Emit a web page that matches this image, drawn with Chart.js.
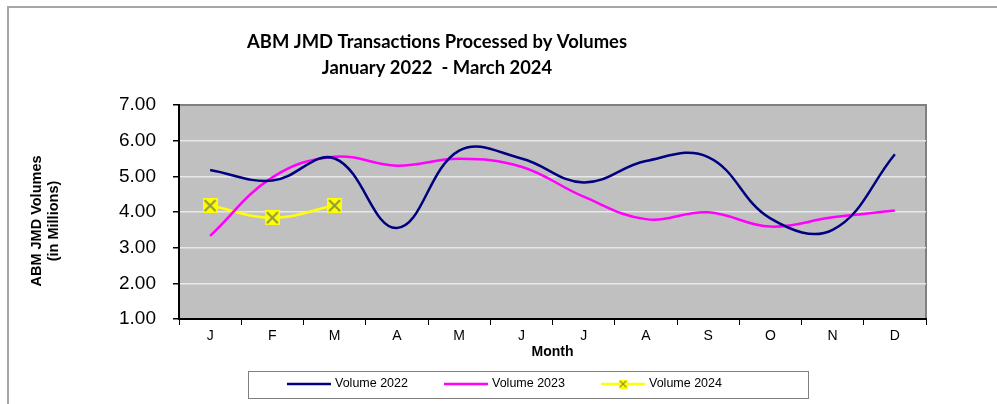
<!DOCTYPE html>
<html>
<head>
<meta charset="utf-8">
<script src="https://cdn.jsdelivr.net/npm/chart.js@4"></script>
<style>
  body { margin: 0; background: #fff; }
  #graph { display: block; }
</style>
</head>
<body>
<canvas id="graph" width="997" height="404"></canvas>
<script>
// months and volumes (millions)
var months = ["J", "F", "M", "A", "M", "J", "J", "A", "S", "O", "N", "D"];
var vol2022 = [5.18, 4.88, 5.50, 3.55, 5.72, 5.50, 4.83, 5.43, 5.54, 3.82, 3.50, 5.62];
var vol2023 = [3.33, 4.97, 5.55, 5.30, 5.49, 5.27, 4.43, 3.80, 3.99, 3.59, 3.85, 4.04];
var vol2024 = [4.18, 3.84, 4.18];
var yTicks = [1, 2, 3, 4, 5, 6, 7];

var titleLines = ["ABM JMD Transactions Processed by Volumes", "January 2022  - March 2024"];
var yTitleLines = ["ABM JMD Volumes", "(in Millions)"];

// yellow square with an olive X, like the Excel marker
function makeMarker() {
  var c = document.createElement("canvas");
  c.width = 15; c.height = 15;
  var g = c.getContext("2d");
  g.fillStyle = "#ffff00";
  g.fillRect(0, 0, 15, 15);
  g.strokeStyle = "#8f9a3a";
  g.lineWidth = 2;
  g.beginPath();
  g.moveTo(2, 2); g.lineTo(13, 13);
  g.moveTo(13, 2); g.lineTo(2, 13);
  g.stroke();
  return c;
}
var marker = makeMarker();

var decor = {
  id: "decor",
  beforeDraw: function(chart) {
    var ctx = chart.ctx, a = chart.chartArea;
    ctx.save();
    ctx.fillStyle = "#fff";
    ctx.fillRect(0, 0, chart.width, chart.height);
    // outer frame
    ctx.strokeStyle = "#a6a6a6";
    ctx.lineWidth = 2;
    ctx.beginPath();
    ctx.moveTo(8, chart.height + 2); ctx.lineTo(8, 7); ctx.lineTo(chart.width + 2, 7);
    ctx.stroke();
    // plot background
    ctx.fillStyle = "#c0c0c0";
    ctx.fillRect(a.left, a.top, a.right - a.left, a.bottom - a.top);
    ctx.strokeStyle = "#808080";
    ctx.lineWidth = 2;
    ctx.beginPath();
    ctx.moveTo(a.left, a.top); ctx.lineTo(a.right, a.top); ctx.lineTo(a.right, a.bottom);
    ctx.stroke();
    ctx.restore();
  },
  afterDraw: function(chart) {
    var ctx = chart.ctx;
    ctx.save();
    ctx.fillStyle = "#000";
    ctx.textAlign = "center";
    ctx.textBaseline = "middle";
    ctx.font = "bold 18.4px Lato, 'Open Sans', sans-serif";
    ctx.fillText(titleLines[0], 437, 42);
    ctx.fillText(titleLines[1], 437, 68);

    // rotated y axis title
    ctx.font = "bold 14.5px 'Liberation Sans', Arial, sans-serif";
    ctx.translate(0, 221);
    ctx.rotate(-Math.PI / 2);
    ctx.fillText(yTitleLines[0], 0, 37);
    ctx.fillText(yTitleLines[1], 0, 54);
    ctx.setTransform(1, 0, 0, 1, 0, 0);

    // legend box
    ctx.fillStyle = "#fff";
    ctx.fillRect(248, 371, 560, 27);
    ctx.strokeStyle = "#808080";
    ctx.lineWidth = 1;
    ctx.strokeRect(248.5, 371.5, 560, 27);
    var starts = [287, 444, 601];
    ctx.font = "12.5px 'Liberation Sans', Arial, sans-serif";
    ctx.textAlign = "left";
    chart.data.datasets.forEach(function(ds, i) {
      var x = starts[i], y = 384;
      ctx.strokeStyle = ds.borderColor;
      ctx.lineWidth = 2.5;
      ctx.beginPath();
      ctx.moveTo(x, y); ctx.lineTo(x + 44, y);
      ctx.stroke();
      if (i === 2) {
        ctx.drawImage(marker, x + 22 - 4.5, y - 4.5, 9, 9);
      }
      ctx.fillStyle = "#000";
      ctx.fillText(ds.label, x + 48, y);
    });
    ctx.restore();
  }
};

var graph = new Chart("graph", {
  type: "line",
  data: {
    labels: months,
    datasets: [{
      label: "Volume 2022",
      data: vol2022,
      borderColor: "#000080",
      borderWidth: 2.5,
      pointRadius: 0,
      tension: 0.4
    }, {
      label: "Volume 2023",
      data: vol2023,
      borderColor: "#ff00ff",
      borderWidth: 2.5,
      pointRadius: 0,
      tension: 0.4
    }, {
      label: "Volume 2024",
      data: vol2024,
      borderColor: "#ffff00",
      borderWidth: 2.5,
      pointStyle: marker,
      pointRadius: 7,
      tension: 0.4
    }]
  },
  options: {
    responsive: false,
    animation: false,
    devicePixelRatio: 1,
    layout: { padding: { left: 0, right: 71, top: 105, bottom: 40 } },
    plugins: {
      legend: { display: false },
      title: { display: false },
      tooltip: { enabled: false }
    },
    scales: {
      x: {
        offset: true,
        afterFit: function(s) { s.height = 45; },
        grid: { offset: true, drawOnChartArea: false, color: "#000", tickLength: 6, lineWidth: 1 },
        border: { color: "#000", width: 2 },
        ticks: { color: "#000", padding: 3, font: { family: "'Liberation Sans', Arial, sans-serif", size: 14 } },
        title: { display: true, text: "Month", color: "#000", padding: { top: 0, bottom: 3 },
                 font: { family: "'Liberation Sans', Arial, sans-serif", size: 14, weight: "bold" } }
      },
      y: {
        min: yTicks[0],
        max: yTicks[yTicks.length - 1],
        afterFit: function(s) { s.width = 179; },
        afterBuildTicks: function(s) { s.ticks = yTicks.map(function(v) { return { value: v }; }); },
        grid: {
          color: function(c) { return (c.tick && c.tick.value > 1 && c.tick.value < 7) ? "#e8e8e8" : "rgba(0,0,0,0)"; },
          tickColor: "#000",
          tickLength: 6,
          lineWidth: 1.5
        },
        border: { color: "#000", width: 2 },
        ticks: {
          color: "#000",
          padding: 17,
          font: { family: "'Liberation Sans', Arial, sans-serif", size: 19 },
          callback: function(v) { return v.toFixed(2); }
        }
      }
    }
  },
  plugins: [decor]
});
</script>
</body>
</html>
